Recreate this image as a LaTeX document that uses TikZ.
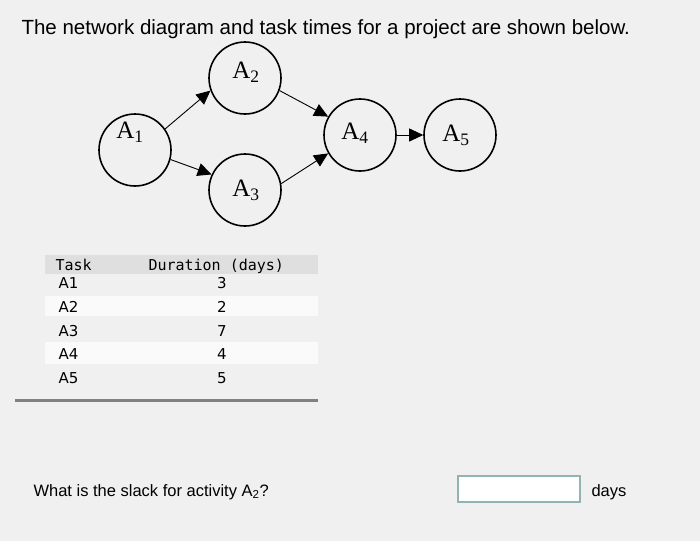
\documentclass[tikz,border=0pt]{standalone}
\usepackage{fontspec}
\setmainfont{Liberation Sans}
\newfontfamily\monof{DejaVu Sans Mono}
\newfontfamily\dvs{DejaVu Sans}
\newfontfamily\serf{Liberation Serif}
\usetikzlibrary{arrows.meta}
\begin{document}
\begin{tikzpicture}[x=1pt,y=-1pt,
  act/.style={circle,draw,line width=1.6pt,minimum size=72pt},
  lab/.style={font=\serf\fontsize{25}{27}\selectfont},
  arr/.style={line width=0.9pt,-{Triangle[length=14pt,width=13pt]}},
  cell/.style={font=\dvs\fontsize{15}{17}\selectfont,anchor=base},
  tcell/.style={font=\monof\fontsize{15}{17}\selectfont,anchor=base west}]
\fill[gray!12] (0,0) rectangle (700,541);
\node[anchor=base west,font=\fontsize{20.5}{23}\selectfont] (title) at (18,34) {The network diagram and task times for a project are shown below.};
\node[act] (a1) at (135,150) {};
\node[act] (a2) at (245,78) {};
\node[act] (a3) at (245,190) {};
\node[act] (a4) at (360,135) {};
\node[act] (a5) at (460,135) {};
\node[lab] (l1) at (130,132) {A\textsubscript{1}};
\node[lab] (l2) at (246,72) {A\textsubscript{2}};
\node[lab] (l3) at (246,190) {A\textsubscript{3}};
\node[lab] (l4) at (355,133) {A\textsubscript{4}};
\node[lab] (l5) at (456,135) {A\textsubscript{5}};
\draw[arr] (a1.35) -- (a2.200);
\draw[arr] (a1.-15) -- (a3.155);
\draw[arr] (a2.-20) -- (a4.150);
\draw[arr] (a3.10) -- (a4.210);
\draw[arr] (a4.east) -- (a5.west);
% table
\fill[gray!25] (45,255) rectangle (318,274);
\fill[white!80!gray!20] (45,296) rectangle (318,316);
\fill[white!80!gray!20] (45,342) rectangle (318,364);
\node[tcell] (h1) at (52,270) {Task};
\node[tcell] (h2) at (145,270) {Duration (days)};
\foreach \t/\d/\y in {1/3/288,2/2/312,3/7/336,4/4/359,5/5/383}{
  \node[cell,anchor=base west] (t\t) at (55,\y) {A\t};
  \node[cell] (d\t) at (222,\y) {\d};
}
\draw[gray,line width=3pt] (15,400) -- (318,400);
\node[anchor=base west,font=\fontsize{16.5}{18}\selectfont] (q) at (30,496) {What is the slack for activity A\textsubscript{2}?};
\node[draw=teal!40!gray!60,line width=1.2pt,fill=white,minimum width=122pt,minimum height=26pt] (box) at (519,489) {};
\node[anchor=base west,font=\fontsize{16.5}{18}\selectfont] (days) at (588,496) {days};
\end{tikzpicture}
\end{document}
